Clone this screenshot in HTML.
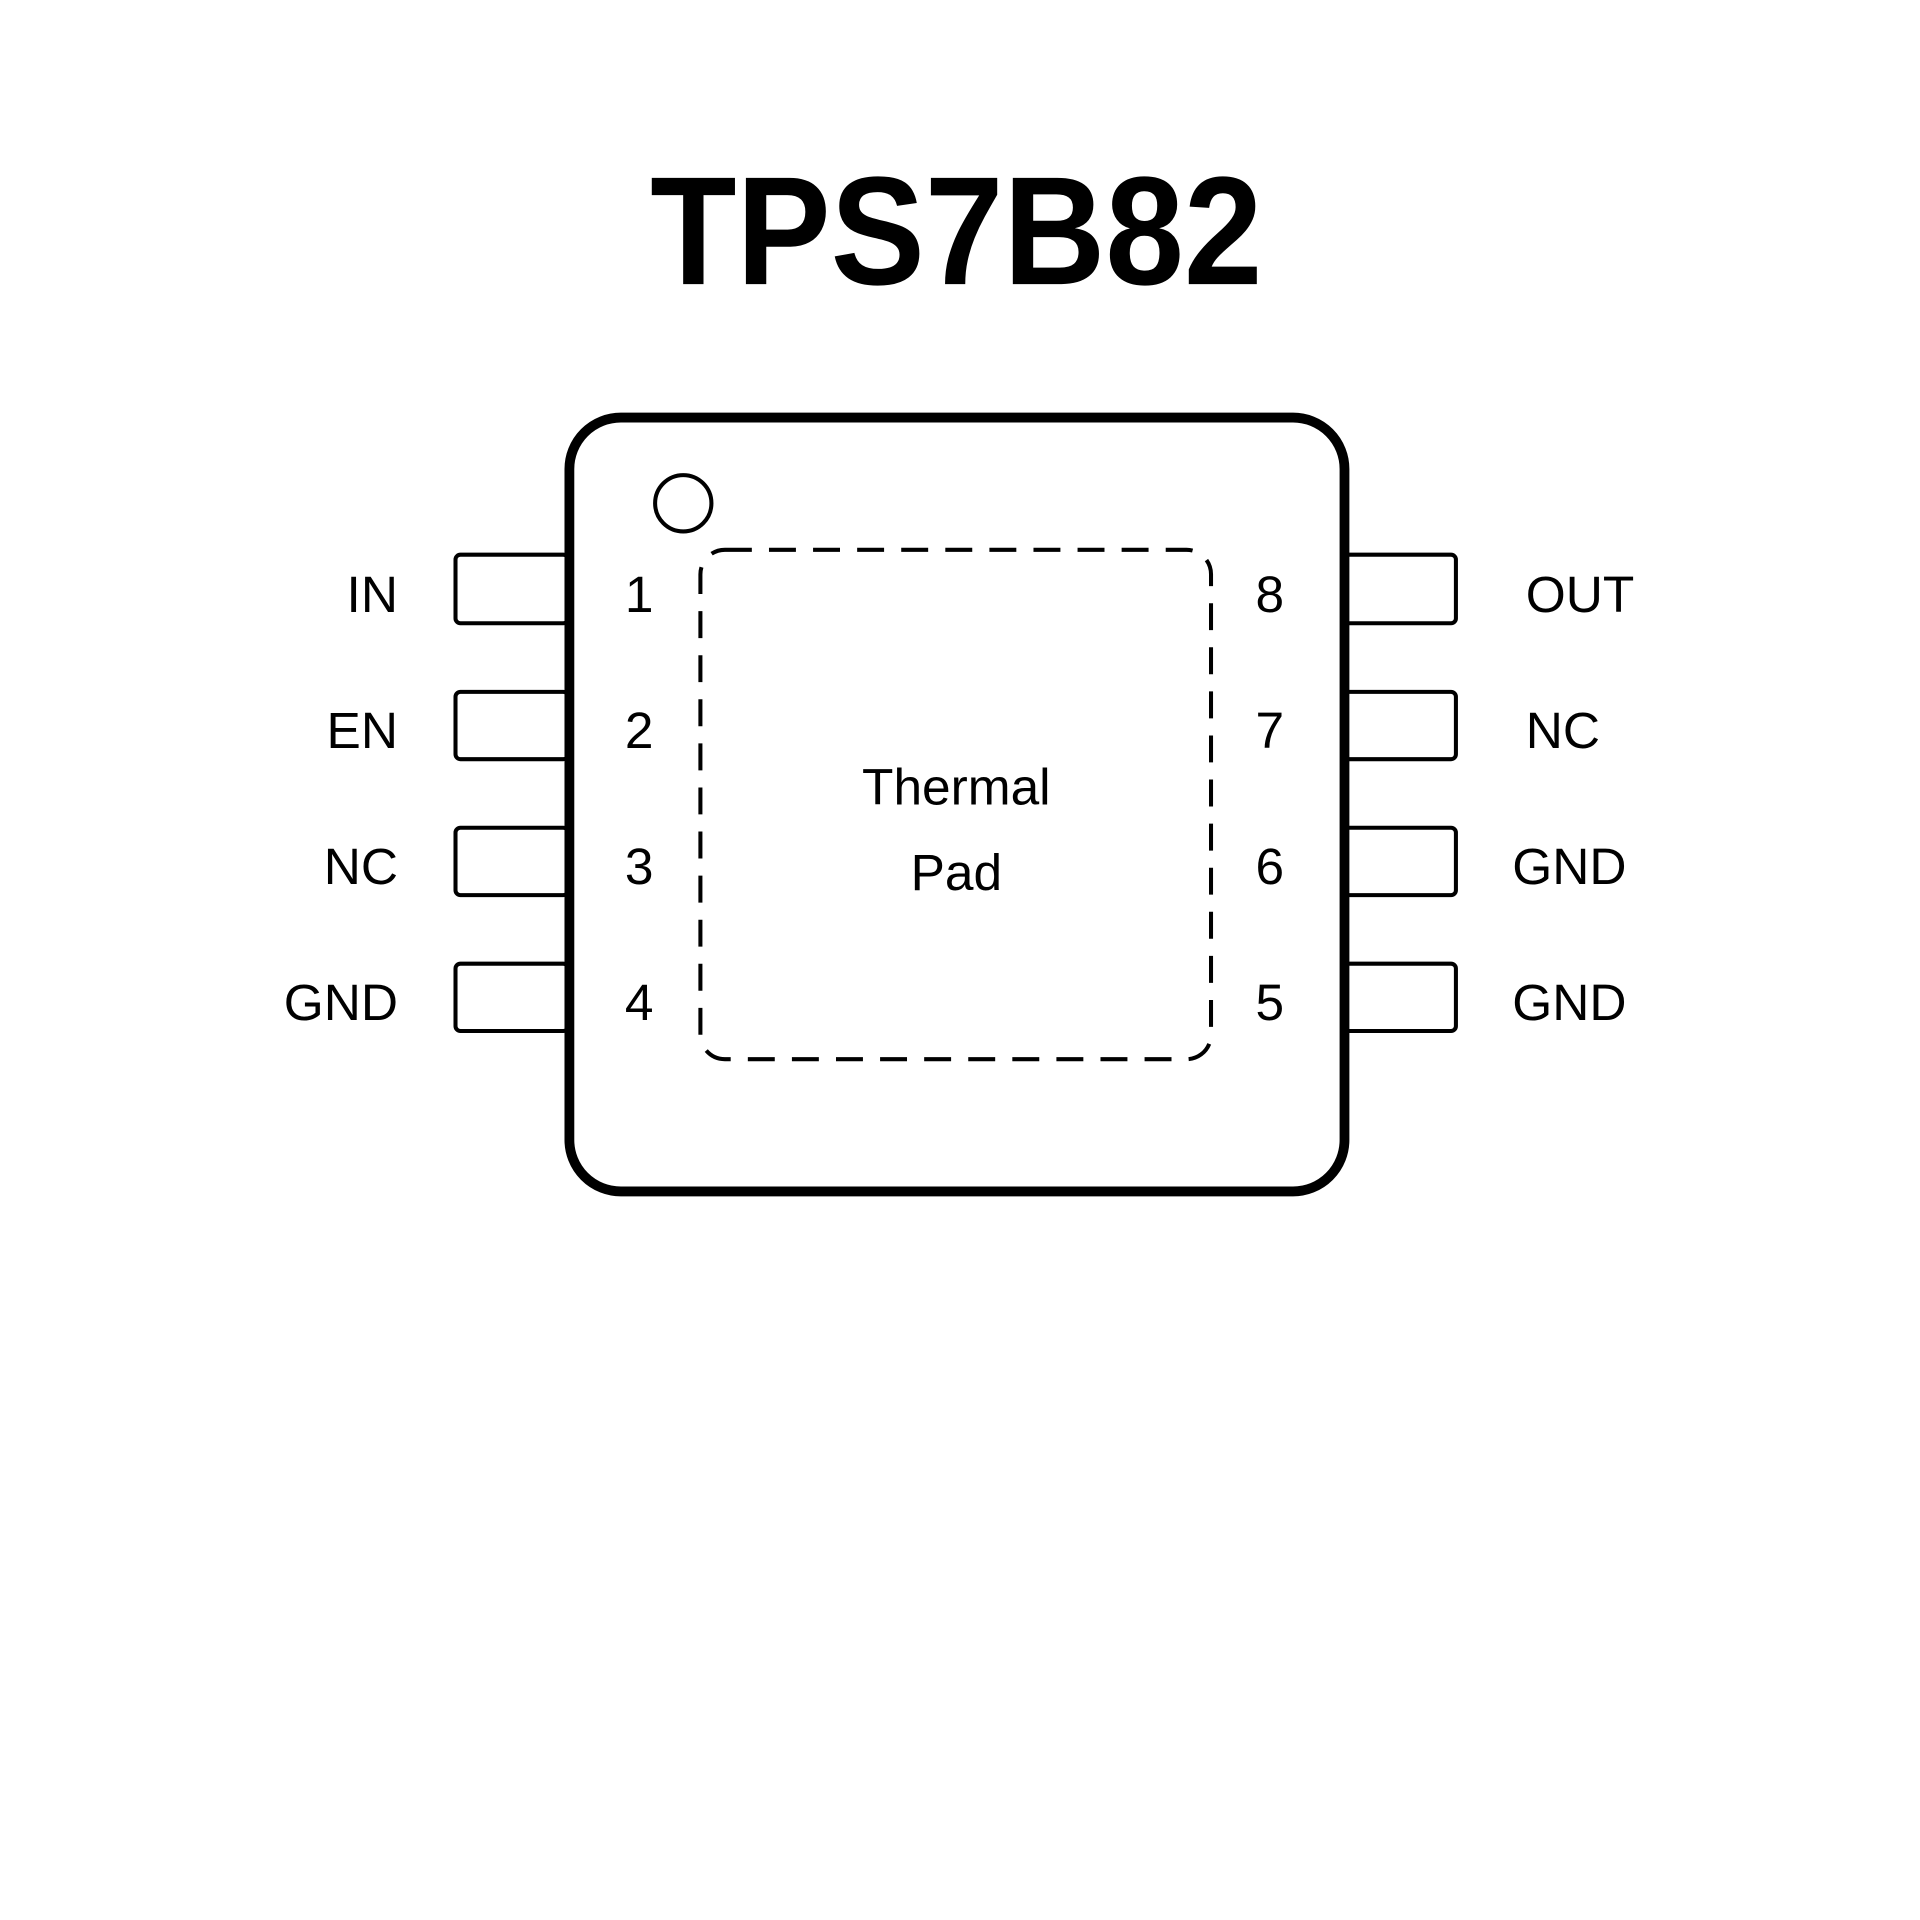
<!DOCTYPE html>
<html><head><style>html,body{margin:0;padding:0;background:#fff}svg{display:block}</style></head>
<body>
<svg width="1920" height="1920" viewBox="0 0 1568 1568" xmlns="http://www.w3.org/2000/svg">
<rect width="1568" height="1568" fill="#fff"/>
<text x="781" y="232" text-anchor="middle" font-family="Liberation Sans, sans-serif" font-weight="bold" font-size="126" textLength="500" lengthAdjust="spacingAndGlyphs">TPS7B82</text>
<g fill="#fff" stroke="#000" stroke-width="3.3">
<rect x="372" y="453" width="92" height="56" rx="4"/>
<rect x="372" y="565" width="92" height="55" rx="4"/>
<rect x="372" y="676" width="92" height="55" rx="4"/>
<rect x="372" y="787" width="92" height="55" rx="4"/>
<rect x="1098" y="453" width="91" height="56" rx="4"/>
<rect x="1098" y="565" width="91" height="55" rx="4"/>
<rect x="1098" y="676" width="91" height="55" rx="4"/>
<rect x="1098" y="787" width="91" height="55" rx="4"/>
</g>
<rect x="465" y="341" width="633" height="632" rx="42" fill="#fff" stroke="#000" stroke-width="8"/>
<circle cx="558" cy="411" r="23" fill="none" stroke="#000" stroke-width="3.3"/>
<rect x="572" y="449" width="417" height="416" rx="20" fill="none" stroke="#000" stroke-width="3.3" stroke-dasharray="22 14"/>
<g font-family="Liberation Sans, sans-serif" font-size="42" fill="#000">
<text x="325" y="500" text-anchor="end">IN</text>
<text x="325" y="611" text-anchor="end">EN</text>
<text x="325" y="722" text-anchor="end">NC</text>
<text x="325" y="833" text-anchor="end">GND</text>
<text x="522" y="500" text-anchor="middle">1</text>
<text x="522" y="611" text-anchor="middle">2</text>
<text x="522" y="722" text-anchor="middle">3</text>
<text x="522" y="833" text-anchor="middle">4</text>
<text x="1037" y="500" text-anchor="middle">8</text>
<text x="1037" y="611" text-anchor="middle">7</text>
<text x="1037" y="722" text-anchor="middle">6</text>
<text x="1037" y="833" text-anchor="middle">5</text>
<text x="1246" y="500">OUT</text>
<text x="1246" y="611">NC</text>
<text x="1235" y="722">GND</text>
<text x="1235" y="833">GND</text>
<text x="781" y="657" text-anchor="middle">Thermal</text>
<text x="781" y="727" text-anchor="middle">Pad</text>
</g>
</svg>
</body></html>
